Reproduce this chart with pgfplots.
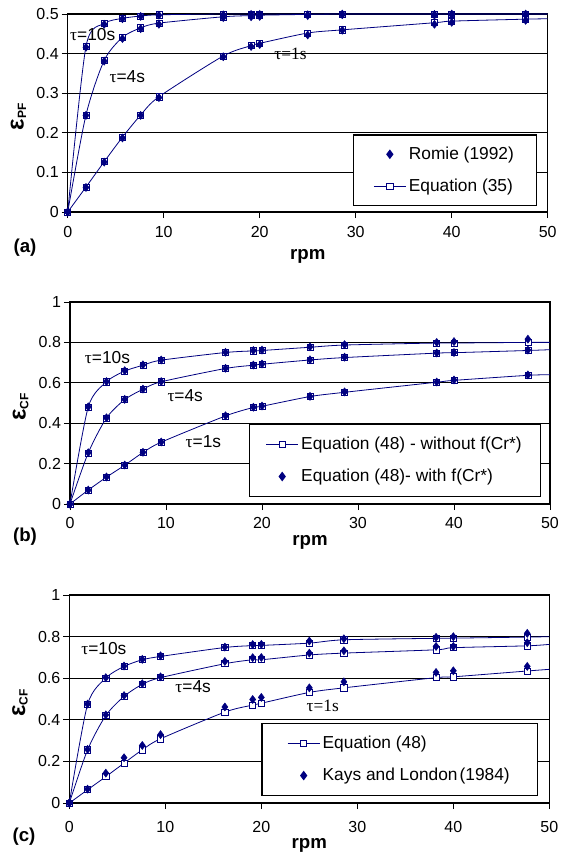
\documentclass[border=0pt]{standalone}
\usepackage{fontspec}
\setmainfont{Liberation Sans}
\newfontfamily\serif{Liberation Serif}
\usepackage{pgfplots}
\pgfplotsset{compat=1.18}

\definecolor{navy}{RGB}{0,0,128}

\newcommand{\eps}[1]{{\bfseries\fontsize{18}{18}\selectfont ε}{\fontsize{9}{9}\selectfont\bfseries\raisebox{-2pt}{#1}}}

\pgfplotsset{
  panel/.style={
    scale only axis, anchor=south west, clip=false,
    width=360pt,
    xmin=0, xmax=50, xtick={0,10,20,30,40,50},
    axis line style={line width=1.1pt},
    ymajorgrids, grid style={black, line width=0.6pt},
    tick style={black, line width=0.6pt},
    xtick pos=bottom, ytick pos=left,
    xtick align=outside, ytick align=center,
    major tick length=4.5pt,
    y tick style={/pgfplots/major tick length=9pt},
    /pgf/number format/assume math mode=true,
    tick label style={font=\fontsize{12}{14}\selectfont},
    yticklabel style={/pgf/number format/fixed, xshift=-1pt},
    xticklabel style={yshift=-2pt},
    xlabel={\bfseries rpm},
    xlabel style={font=\fontsize{14}{16}\selectfont, at={(axis description cs:0.5,0)}, anchor=center},
    ylabel style={at={(axis description cs:0,0.48)}, anchor=center, yshift=37pt},
    legend style={font=\fontsize{13}{15}\selectfont, draw=black, line width=0.8pt,
      at={(rel axis cs:1,0)}, anchor=south east, cells={anchor=west},
      row sep=9pt, inner xsep=12pt, inner ysep=7.5pt},
  },
  eqline/.style={navy, line width=0.6pt, smooth, tension=0.45,
    mark=square*, mark size=2.3pt, mark options={fill=white, line width=0.5pt, solid},
    mark indices={1,2,3,4,5,6,7,8,9,10,11,12,13,14}},
  dia/.style={navy, only marks, mark=diamond*, mark size=3pt, mark options={fill=navy}},
  eqleg/.style={navy, line width=0.6pt, mark=square*, mark size=2.3pt,
    mark options={fill=white, line width=0.5pt},
    legend image code/.code={\draw[mark repeat=2, mark phase=2] plot coordinates {(0cm,0cm) (0.42cm,0cm) (0.84cm,0cm)};}},
  dialeg/.style={navy, mark=diamond*, mark size=3pt, mark options={fill=navy},
    legend image code/.code={\draw plot[only marks] coordinates {(0.42cm,0cm)};}},
}

\begin{document}
\begin{tikzpicture}
\useasboundingbox (0,0) rectangle (428.25pt,-640.5pt);

% ---------- (a)
\begin{axis}[panel, at={(50.8pt,-159pt)}, height=148.5pt,
  ymin=0, ymax=0.5, ytick={0,0.1,0.2,0.3,0.4,0.5},
  xticklabel style={yshift=-1pt},
  xlabel style={yshift=-33pt},
  ylabel={\eps{PF}},
  legend style={xshift=-8pt, yshift=4.5pt, inner xsep=15pt, inner ysep=7pt}]
\addlegendimage{dialeg}\addlegendentry{Romie (1992)}
\addlegendimage{eqleg}\addlegendentry{Equation (35)}
% Equation (35)
\addplot[eqline, forget plot] coordinates {(0,0)(1.9,0.418)(3.8,0.476)(5.7,0.489)(7.6,0.495)(9.5,0.498)(16.2,0.5)(19.1,0.5)(20,0.5)(25,0.5)(28.6,0.5)(38.2,0.5)(40,0.5)(47.7,0.5)(50,0.5)};
\addplot[eqline, forget plot] coordinates {(0,0)(1.9,0.245)(3.8,0.383)(5.7,0.441)(7.6,0.465)(9.5,0.477)(16.2,0.493)(19.1,0.496)(20,0.497)(25,0.499)(28.6,0.5)(38.2,0.5)(40,0.5)(47.7,0.5)(50,0.5)};
\addplot[eqline, forget plot] coordinates {(0,0)(1.9,0.063)(3.8,0.127)(5.7,0.189)(7.6,0.245)(9.5,0.291)(16.2,0.394)(19.1,0.42)(20,0.426)(25,0.452)(28.6,0.46)(38.2,0.478)(40,0.482)(47.7,0.487)(50,0.488)};
% Romie (1992)
\addplot[dia, forget plot] coordinates {(0,0)(1.9,0.416)(3.8,0.474)(5.7,0.488)(7.6,0.494)(9.5,0.497)(16.2,0.498)(19.1,0.499)(20,0.499)(25,0.498)(28.6,0.5)(38.2,0.499)(40,0.5)(47.7,0.5)};
\addplot[dia, forget plot] coordinates {(0,0)(1.9,0.244)(3.8,0.381)(5.7,0.438)(7.6,0.463)(9.5,0.474)(16.2,0.491)(19.1,0.493)(20,0.494)(25,0.496)(28.6,0.498)(38.2,0.497)(40,0.498)(47.7,0.497)};
\addplot[dia, forget plot] coordinates {(0,0)(1.9,0.062)(3.8,0.126)(5.7,0.187)(7.6,0.244)(9.5,0.289)(16.2,0.392)(19.1,0.418)(20,0.423)(25,0.447)(28.6,0.459)(38.2,0.474)(40,0.479)(47.7,0.484)};
\node[font=\fontsize{13}{15}\selectfont] at (axis cs:2.6,0.447) {{\serif τ}=10s};
\node[font=\fontsize{13}{15}\selectfont] at (axis cs:6.2,0.343) {{\serif τ}=4s};
\node[font=\fontsize{13}{15}\selectfont\serif] at (axis cs:23.2,0.399) {τ=1s};
\end{axis}
\node[font=\fontsize{14}{16}\selectfont\bfseries] at (18.75pt,-186pt) {(a)};

% ---------- (b)
\begin{axis}[panel, at={(52.5pt,-378pt)}, height=151.5pt,
  ymin=0, ymax=1, ytick={0,0.2,0.4,0.6,0.8,1},
  xlabel style={yshift=-29pt},
  ylabel={\eps{CF}},
  legend style={xshift=-6.75pt, yshift=5.25pt}]
\addlegendimage{eqleg}\addlegendentry{Equation (48) - without f(Cr*)}
\addlegendimage{dialeg}\addlegendentry{Equation (48)- with f(Cr*)}
% without f(Cr*)
\addplot[eqline, forget plot] coordinates {(0,0)(1.9,0.48)(3.8,0.605)(5.7,0.658)(7.6,0.687)(9.5,0.712)(16.2,0.75)(19.1,0.758)(20,0.76)(25,0.776)(28.6,0.787)(38.2,0.797)(40,0.797)(47.7,0.8)(50,0.8)};
\addplot[eqline, forget plot] coordinates {(0,0)(1.9,0.253)(3.8,0.426)(5.7,0.517)(7.6,0.568)(9.5,0.605)(16.2,0.671)(19.1,0.687)(20,0.692)(25,0.713)(28.6,0.725)(38.2,0.747)(40,0.749)(47.7,0.76)(50,0.764)};
\addplot[eqline, forget plot] coordinates {(0,0)(1.9,0.069)(3.8,0.133)(5.7,0.192)(7.6,0.255)(9.5,0.306)(16.2,0.436)(19.1,0.478)(20,0.484)(25,0.532)(28.6,0.553)(38.2,0.603)(40,0.612)(47.7,0.637)(50,0.64)};
% with f(Cr*)
\addplot[dia, forget plot] coordinates {(0,0)(1.9,0.481)(3.8,0.606)(5.7,0.66)(7.6,0.689)(9.5,0.713)(16.2,0.751)(19.1,0.76)(20,0.762)(25,0.778)(28.6,0.789)(38.2,0.8)(40,0.804)(47.7,0.816)};
\addplot[dia, forget plot] coordinates {(0,0)(1.9,0.254)(3.8,0.427)(5.7,0.518)(7.6,0.569)(9.5,0.606)(16.2,0.672)(19.1,0.688)(20,0.693)(25,0.714)(28.6,0.727)(38.2,0.748)(40,0.75)(47.7,0.762)};
\addplot[dia, forget plot] coordinates {(0,0)(1.9,0.069)(3.8,0.134)(5.7,0.193)(7.6,0.256)(9.5,0.307)(16.2,0.437)(19.1,0.479)(20,0.485)(25,0.533)(28.6,0.555)(38.2,0.604)(40,0.614)(47.7,0.639)};
\node[font=\fontsize{13}{15}\selectfont] at (axis cs:3.9,0.723) {{\serif τ}=10s};
\node[font=\fontsize{13}{15}\selectfont] at (axis cs:12.0,0.536) {{\serif τ}=4s};
\node[font=\fontsize{13}{15}\selectfont] at (axis cs:13.9,0.308) {{\serif τ}=1s};
\end{axis}
\node[font=\fontsize{14}{16}\selectfont\bfseries] at (18.75pt,-402.75pt) {(b)};

% ---------- (c)
\begin{axis}[panel, at={(52pt,-602.3pt)}, height=156pt,
  ymin=0, ymax=1, ytick={0,0.2,0.4,0.6,0.8,1},
  xticklabel style={yshift=-3.5pt},
  xlabel style={yshift=-32pt},
  ylabel={\eps{CF}},
  legend style={xshift=-8.25pt, yshift=5.25pt, inner xsep=19pt}]
\addlegendimage{eqleg}\addlegendentry{Equation (48)}
\addlegendimage{dialeg}\addlegendentry{Kays and London\hspace{0.12em}(1984)}
% Equation (48)
\addplot[eqline, forget plot] coordinates {(0,0)(1.9,0.474)(3.8,0.601)(5.7,0.657)(7.6,0.689)(9.5,0.705)(16.2,0.748)(19.1,0.757)(20,0.758)(25,0.769)(28.6,0.785)(38.2,0.792)(40,0.793)(47.7,0.798)(50,0.8)};
\addplot[eqline, forget plot] coordinates {(0,0)(1.9,0.256)(3.8,0.421)(5.7,0.513)(7.6,0.571)(9.5,0.603)(16.2,0.67)(19.1,0.689)(20,0.689)(25,0.712)(28.6,0.721)(38.2,0.737)(40,0.747)(47.7,0.756)(50,0.763)};
\addplot[eqline, forget plot] coordinates {(0,0)(1.9,0.064)(3.8,0.127)(5.7,0.192)(7.6,0.256)(9.5,0.309)(16.2,0.4375)(19.1,0.471)(20,0.48)(25,0.532)(28.6,0.554)(38.2,0.603)(40,0.607)(47.7,0.635)(50,0.643)};
% Kays and London (1984)
\addplot[dia, forget plot] coordinates {(0,0)(1.9,0.476)(3.8,0.603)(5.7,0.659)(7.6,0.691)(9.5,0.708)(16.2,0.75)(19.1,0.762)(20,0.763)(25,0.779)(28.6,0.79)(38.2,0.797)(40,0.8)(47.7,0.816)};
\addplot[dia, forget plot] coordinates {(0,0)(1.9,0.258)(3.8,0.424)(5.7,0.517)(7.6,0.574)(9.5,0.607)(16.2,0.681)(19.1,0.699)(20,0.7)(25,0.721)(28.6,0.732)(38.2,0.753)(40,0.753)(47.7,0.771)};
\addplot[dia, forget plot] coordinates {(0,0)(1.9,0.067)(3.8,0.144)(5.7,0.218)(7.6,0.277)(9.5,0.329)(16.2,0.462)(19.1,0.498)(20,0.508)(25,0.554)(28.6,0.583)(38.2,0.628)(40,0.636)(47.7,0.657)};
\node[font=\fontsize{13}{15}\selectfont] at (axis cs:3.6,0.745) {{\serif τ}=10s};
\node[font=\fontsize{13}{15}\selectfont] at (axis cs:12.9,0.56) {{\serif τ}=4s};
\node[font=\fontsize{13}{15}\selectfont\serif] at (axis cs:26.4,0.468) {τ=1s};
\end{axis}
\node[font=\fontsize{14}{16}\selectfont\bfseries] at (18pt,-627.75pt) {(c)};
\end{tikzpicture}
\end{document}
